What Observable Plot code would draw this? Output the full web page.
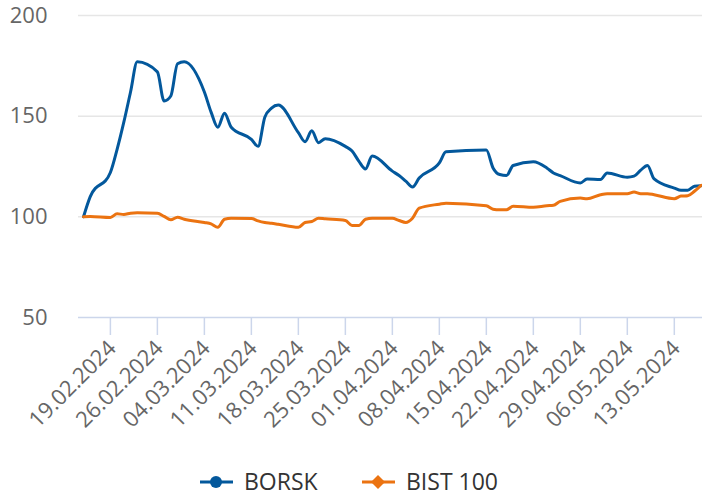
<!DOCTYPE html>
<html>
<head>
<meta charset="utf-8">
<script src="https://cdn.jsdelivr.net/npm/d3@7"></script>
<script src="https://cdn.jsdelivr.net/npm/@observablehq/plot@0.6"></script>
<style>
  html, body { margin: 0; padding: 0; background: #fff; }
  #wrap { width: 702px; height: 497px; position: relative; overflow: hidden; font-family: "Open Sans", sans-serif; }
  #legend { position: absolute; left: 0; top: 469px; width: 702px; height: 24px; }
  .item { position: absolute; top: 0; height: 24px; line-height: 24px; display: flex; align-items: center; font-size: 23px; color: #333; white-space: nowrap; }
  .item svg { margin-right: 11px; }
</style>
</head>
<body>
<div id="wrap">
  <div id="chart"></div>
  <div id="legend"></div>
</div>
<script>
// Trading dates
const dates = [
  "2024-02-15","2024-02-16","2024-02-19","2024-02-20","2024-02-21","2024-02-22","2024-02-23",
  "2024-02-26","2024-02-27","2024-02-28","2024-02-29","2024-03-01",
  "2024-03-04","2024-03-05","2024-03-06","2024-03-07","2024-03-08",
  "2024-03-11","2024-03-12","2024-03-13","2024-03-14","2024-03-15",
  "2024-03-18","2024-03-19","2024-03-20","2024-03-21","2024-03-22",
  "2024-03-25","2024-03-26","2024-03-27","2024-03-28","2024-03-29",
  "2024-04-01","2024-04-02","2024-04-03","2024-04-04","2024-04-05",
  "2024-04-08","2024-04-09",
  "2024-04-15","2024-04-16","2024-04-17","2024-04-18","2024-04-19",
  "2024-04-22","2024-04-24","2024-04-25","2024-04-26",
  "2024-04-29","2024-04-30","2024-05-02","2024-05-03",
  "2024-05-06","2024-05-07","2024-05-08","2024-05-09","2024-05-10",
  "2024-05-13","2024-05-14","2024-05-15","2024-05-16","2024-05-17"
];
const borsk = [
  100,110,122,133.5,147,162,177,
  172,157.5,160,176,177,
  162,152,144.5,151.5,144.5,
  138.5,135,149.5,154,155.5,
  141.8,137.3,142.7,136.8,138.8,
  135,132.7,127.7,123.8,130.2,
  122.7,120.5,117.7,114.8,119.3,
  126.8,132.3,
  133.2,124.3,121,120.5,125.5,
  127.3,124.3,121.8,120.5,
  116.8,118.8,118.5,121.8,
  119.7,120.2,123.2,125.5,118.8,
  114.3,113.2,113.2,115.2,115.5
];
const bist100 = [
  100,100.2,99.7,101.5,101.2,101.8,102,
  101.8,100.2,98.5,99.8,98.8,
  97.2,96.5,94.8,98.8,99.3,
  99.2,98,97.2,96.8,96.3,
  94.8,97.2,97.7,99.3,99,
  98.2,95.7,95.7,98.8,99.3,
  99.3,98.2,97.2,99.3,104.3,
  106.3,106.8,
  105.5,103.8,103.5,103.5,105.3,
  104.8,105.5,105.7,107.7,
  109.3,109,111,111.5,
  111.5,112.3,111.5,111.5,111,
  109,110.3,110.5,112.7,115.7
];
const seriesNames = ["BORSK", "BIST 100"];
const seriesColors = ["#03589c", "#eb7311"];
const xTickLabels = ["19.02.2024","26.02.2024","04.03.2024","11.03.2024","18.03.2024","25.03.2024",
  "01.04.2024","08.04.2024","15.04.2024","22.04.2024","29.04.2024","06.05.2024","13.05.2024"];
const yTicks = [50, 100, 150, 200];

const parseLabel = d3.utcParse("%d.%m.%Y");
const tickDates = xTickLabels.map(parseLabel);
const rows = [];
dates.forEach((d, i) => {
  const dt = new Date(d + "T00:00:00Z");
  rows.push({date: dt, value: borsk[i], series: seriesNames[0]});
  rows.push({date: dt, value: bist100[i], series: seriesNames[1]});
});
const dayMs = 86400000;
const x0 = new Date(new Date(dates[0] + "T00:00:00Z").getTime() - 0.75 * dayMs);
const x1 = new Date(new Date(dates[dates.length - 1] + "T00:00:00Z").getTime() + 0.2 * dayMs);

const chart = Plot.plot({
  width: 702,
  height: 468,
  marginLeft: 78,
  marginRight: 0,
  marginTop: 15,
  marginBottom: 151,
  style: { fontFamily: "Open Sans, sans-serif", background: "#fff", overflow: "visible" },
  x: { type: "utc", domain: [x0, x1] },
  y: { domain: [50, 200] },
  color: { domain: seriesNames, range: seriesColors },
  marks: [
    Plot.gridY(yTicks.slice(1), { stroke: "#e6e6e6", strokeOpacity: 1, strokeWidth: 1.5 }),
    Plot.ruleY([50], { stroke: "#ccd6eb", strokeWidth: 1.5 }),
    Plot.axisY(yTicks, { tickSize: 0, tickPadding: 31, fontSize: 22, fill: "#666", label: null }),
    // tick marks
    Plot.axisX(tickDates, {
      tickFormat: () => "", tickSize: 18, stroke: "#ccd6eb", strokeWidth: 1.5, label: null
    }),
    // rotated labels
    Plot.axisX(tickDates, {
      tickFormat: d3.utcFormat("%d.%m.%Y"), tickRotate: -45, tickSize: 0, tickPadding: 27,
      fill: "#666", fontSize: 22, label: null, dx: 2
    }),
    Plot.line(rows, { x: "date", y: "value", z: "series", stroke: "series", strokeWidth: 3, curve: "monotone-x" })
  ]
});
document.getElementById("chart").appendChild(chart);

// Legend
const legend = document.getElementById("legend");
const positions = [200, 362];
seriesNames.forEach((name, i) => {
  const item = document.createElement("div");
  item.className = "item";
  item.style.left = positions[i] + "px";
  const sym = i === 0
    ? `<circle cx="16" cy="13" r="6" fill="${seriesColors[i]}"/>`
    : `<path d="M16 6 L23 13 L16 20 L9 13 Z" fill="${seriesColors[i]}"/>`;
  item.innerHTML = `<svg width="33" height="24"><line x1="0" x2="33" y1="13" y2="13" stroke="${seriesColors[i]}" stroke-width="3"/>${sym}</svg><span>${name}</span>`;
  legend.appendChild(item);
});
</script>
</body>
</html>
